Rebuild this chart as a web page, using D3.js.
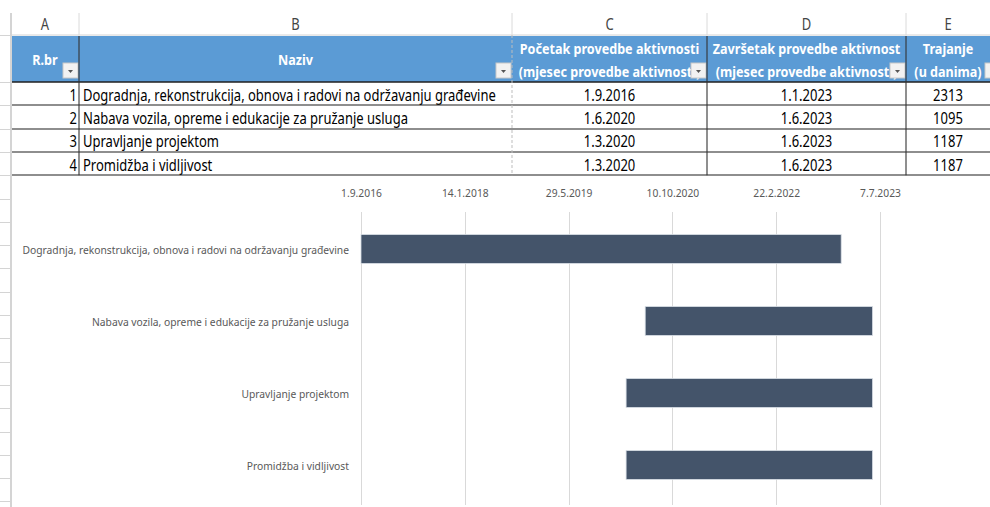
<!DOCTYPE html>
<html>
<head>
<meta charset="utf-8">
<script src="https://cdn.jsdelivr.net/npm/d3@7"></script>
<style>
  html, body { margin: 0; padding: 0; background: #fff; }
  svg { display: block; font-family: "Noto Sans", sans-serif; }
</style>
</head>
<body>
<svg id="sheet"></svg>
<script>
// ---- data ----
const rowNumbers = [1, 2, 3, 4];
const activities = [
    "Dogradnja, rekonstrukcija, obnova i radovi na održavanju građevine",
    "Nabava vozila, opreme i edukacije za pružanje usluga",
    "Upravljanje projektom",
    "Promidžba i vidljivost"
];
const startDates = ["1.9.2016", "1.6.2020", "1.3.2020", "1.3.2020"];
const endDates = ["1.1.2023", "1.6.2023", "1.6.2023", "1.6.2023"];
const durations = [2313, 1095, 1187, 1187];
const tickLabels = ["1.9.2016", "14.1.2018", "29.5.2019", "10.10.2020", "22.2.2022", "7.7.2023"];

const columnLetters = ["A", "B", "C", "D", "E"];
const headerLines = [
    ["R.br"],
    ["Naziv"],
    ["Početak provedbe aktivnosti", "(mjesec provedbe aktivnosti)"],
    ["Završetak provedbe aktivnost", "(mjesec provedbe aktivnosti)"],
    ["Trajanje", "(u danima)"]
];

// ---- layout ----
const W = 990, H = 507;
const colEdges = [11, 79, 512, 707, 906, 1001];
const letterRow = {top: 13, bottom: 35};
const headRow = {top: 36, bottom: 82};
const rowH = 23.3;
const chart = {left: 361, right: 880, top: 213, bottom: 501, gridTop: 212, gridBottom: 505, labelX: 349, tickY: 193};

const blue = "#5b9bd5";
const barColor = "#44546a";
const gridColor = "#d9d9d9";
const tableScale = 0.84;
const chartScale = 0.895;

const parseDate = d3.utcParse("%d.%m.%Y");

const svg = d3.select("#sheet").attr("width", W).attr("height", H);

// visible centre of a column (column E runs past the window edge)
const colCenter = i => (colEdges[i] + Math.min(colEdges[i + 1], W)) / 2;

// condensed text helper (the sheet uses a narrow font)
function txt(g, x, y, str, o) {
    return g.append("text")
        .attr("transform", `translate(${x},${y}) scale(${o.sx},1)`)
        .attr("text-anchor", o.anchor || "middle")
        .attr("dominant-baseline", "central")
        .attr("font-size", o.size)
        .attr("font-weight", o.weight || "normal")
        .attr("fill", o.fill)
        .text(str);
}

// ---- spreadsheet chrome ----
const chrome = svg.append("g");
chrome.append("line")
    .attr("x1", colEdges[0]).attr("x2", colEdges[0])
    .attr("y1", letterRow.top).attr("y2", H)
    .attr("stroke", "#d4d4d4").attr("stroke-width", 2);
chrome.append("line")
    .attr("x1", colEdges[0]).attr("x2", W)
    .attr("y1", letterRow.bottom).attr("y2", letterRow.bottom)
    .attr("stroke", "#d4d4d4");
colEdges.slice(1, 5).forEach(x => {
    chrome.append("line")
        .attr("x1", x).attr("x2", x)
        .attr("y1", letterRow.top).attr("y2", letterRow.bottom)
        .attr("stroke", "#dadada");
});
columnLetters.forEach((c, i) => {
    txt(chrome, colCenter(i), 24, c, {sx: tableScale, size: 15.5, fill: "#444"});
});
// row header stubs on the left
d3.range(headRow.bottom, H, rowH).concat([letterRow.bottom]).forEach(y => {
    chrome.append("line")
        .attr("x1", 0).attr("x2", colEdges[0])
        .attr("y1", Math.round(y) + 0.5).attr("y2", Math.round(y) + 0.5)
        .attr("stroke", "#d4d4d4");
});

// ---- table ----
const table = svg.append("g");
table.append("rect")
    .attr("x", colEdges[0] + 1).attr("y", headRow.top)
    .attr("width", W - colEdges[0]).attr("height", headRow.bottom - headRow.top)
    .attr("fill", blue);

const defs = svg.append("defs");
headerLines.forEach((lines, i) => {
    const x0 = colEdges[i], x1 = colEdges[i + 1];
    defs.append("clipPath").attr("id", "clip" + i)
        .append("rect").attr("x", x0 + 1).attr("y", headRow.top)
        .attr("width", x1 - x0 - 2).attr("height", headRow.bottom - headRow.top);
    const cell = table.append("g").attr("clip-path", `url(#clip${i})`);
    const cx = colCenter(i);
    const o = {sx: tableScale, size: 15, weight: "bold", fill: "#fff"};
    if (lines.length === 1) {
        txt(cell, cx, 59, lines[0], o);
    } else {
        lines.forEach((l, j) => txt(cell, cx, 48 + j * 23, l, o));
    }
    // filter button
    const b = table.append("g").attr("transform", `translate(${x1 - 16},63)`);
    b.append("rect").attr("width", 15).attr("height", 15)
        .attr("fill", "#f2f2f2").attr("stroke", "#c8c8c8");
    b.append("path").attr("d", "M5,7 L10,7 L7.5,10 Z").attr("fill", "#555");
});

const rowTops = d3.range(rowNumbers.length + 1).map(i => headRow.bottom + i * rowH);
rowNumbers.forEach((n, i) => {
    const cy = rowTops[i] + rowH / 2 + 1;
    const o = {sx: tableScale, size: 15.5, fill: "#000"};
    txt(table, colEdges[1] - 2, cy, n, Object.assign({anchor: "end"}, o));
    txt(table, colEdges[1] + 4, cy, activities[i], Object.assign({anchor: "start"}, o));
    txt(table, colCenter(2), cy, startDates[i], o);
    txt(table, colCenter(3), cy, endDates[i], o);
    txt(table, colCenter(4), cy, durations[i], o);
});
rowTops.forEach((y, i) => {
    table.append("line")
        .attr("x1", colEdges[0] + 1).attr("x2", W)
        .attr("y1", Math.round(y)).attr("y2", Math.round(y))
        .attr("stroke", "#1f1f1f").attr("stroke-width", i === 0 ? 1.6 : 1.1);
});
[1, 3, 4].forEach(c => {
    table.append("line")
        .attr("x1", colEdges[c]).attr("x2", colEdges[c])
        .attr("y1", headRow.top).attr("y2", rowTops[rowTops.length - 1])
        .attr("stroke", "#333").attr("stroke-width", 1.1);
});
table.append("line")
    .attr("x1", colEdges[2]).attr("x2", colEdges[2])
    .attr("y1", letterRow.bottom).attr("y2", rowTops[rowTops.length - 1])
    .attr("stroke", "#bdbdbd").attr("stroke-dasharray", "3,2");

// ---- gantt chart ----
const tickDates = tickLabels.map(parseDate);
const x = d3.scaleUtc()
    .domain([tickDates[0], tickDates[tickDates.length - 1]])
    .range([chart.left, chart.right]);
const y = d3.scaleBand()
    .domain(activities)
    .range([chart.top, chart.bottom])
    .paddingInner(0.6)
    .paddingOuter(0.3);

const g = svg.append("g");
g.selectAll(".grid")
    .data(tickDates)
    .join("line")
    .attr("class", "grid")
    .attr("x1", d => Math.round(x(d)) + 0.5).attr("x2", d => Math.round(x(d)) + 0.5)
    .attr("y1", chart.gridTop).attr("y2", chart.gridBottom)
    .attr("stroke", gridColor);

const xAxis = d3.axisTop(x)
    .tickValues(tickDates)
    .tickFormat((d, i) => tickLabels[i])
    .tickSize(0);
const ax = g.append("g")
    .attr("transform", `translate(0,${chart.tickY})`)
    .call(xAxis);
ax.select(".domain").remove();
ax.selectAll("text")
    .attr("y", 0).attr("dy", "0.35em")
    .attr("font-family", "Noto Sans, sans-serif")
    .attr("font-size", 11.5)
    .attr("fill", "#595959")
    .attr("transform", `scale(${chartScale},1)`);

g.selectAll(".bar")
    .data(activities)
    .join("rect")
    .attr("class", "bar")
    .attr("x", (d, i) => x(parseDate(startDates[i])))
    .attr("width", (d, i) => x(d3.utcDay.offset(parseDate(startDates[i]), durations[i])) - x(parseDate(startDates[i])))
    .attr("y", d => y(d))
    .attr("height", y.bandwidth())
    .attr("fill", barColor)
    .attr("stroke", "#d6dce4")
    .attr("stroke-width", 0.8);

activities.forEach(a => {
    txt(g, chart.labelX, y(a) + y.bandwidth() / 2, a, {sx: chartScale, size: 11.5, fill: "#595959", anchor: "end"});
});
</script>
</body>
</html>
